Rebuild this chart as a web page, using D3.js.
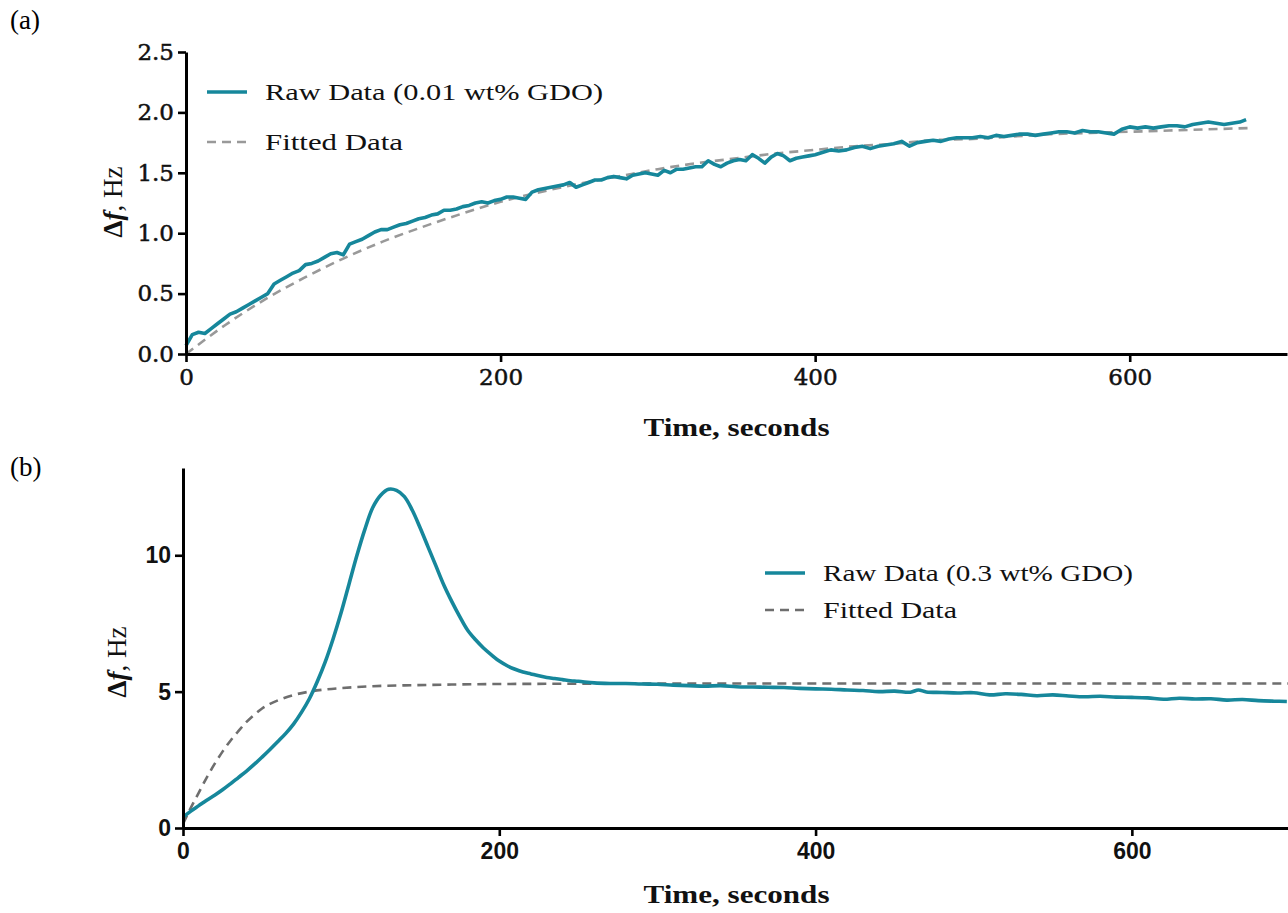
<!DOCTYPE html>
<html>
<head>
<meta charset="utf-8">
<script src="https://cdn.jsdelivr.net/npm/d3@7"></script>
<style>
  body { margin: 0; background: #fff; }
  svg { display: block; }
</style>
</head>
<body>
<svg id="chart" width="1288" height="913"></svg>
<script>
// panel (a): 0.01 wt% GDO
const timeA = [0,4,8,12,16,20,24,28,32,36,40,44,48,52,56,60,64,68,72,76,80,84,88,92,96,100,
  104,108,112,116,120,124,128,132,136,140,144,148,152,156,160,164,168,172,176,180,184,188,192,196,
  200,204,208,212,216,220,224,228,232,236,240,244,248,252,256,260,264,268,272,276,280,284,288,292,296,
  300,304,308,312,316,320,324,328,332,336,340,344,348,352,356,360,364,368,372,376,380,384,388,392,396,
  400,405,410,415,420,425,430,435,440,445,450,455,460,465,470,475,480,485,490,495,500,505,510,515,520,
  525,530,535,540,545,550,555,560,565,570,575,580,585,590,595,600,605,610,615,620,625,630,635,640,645,
  650,655,660,665,670,674];
const rawA = [0.07,0.16,0.18,0.17,0.21,0.25,0.29,0.33,0.35,0.38,0.41,0.44,0.47,0.50,0.58,0.61,0.64,0.67,0.69,0.74,0.75,0.77,0.80,0.83,0.84,0.82,
  0.91,0.93,0.95,0.98,1.01,1.03,1.03,1.05,1.07,1.08,1.10,1.12,1.13,1.15,1.16,1.19,1.19,1.20,1.22,1.23,1.25,1.26,1.25,1.27,
  1.28,1.30,1.30,1.29,1.28,1.34,1.36,1.37,1.38,1.39,1.40,1.42,1.38,1.40,1.42,1.44,1.44,1.46,1.47,1.46,1.45,1.48,1.49,1.50,1.49,
  1.48,1.52,1.50,1.53,1.53,1.54,1.55,1.55,1.60,1.57,1.55,1.58,1.60,1.61,1.60,1.65,1.62,1.58,1.63,1.66,1.64,1.60,1.62,1.63,1.64,
  1.65,1.67,1.69,1.68,1.69,1.71,1.72,1.70,1.72,1.73,1.74,1.76,1.72,1.75,1.76,1.77,1.76,1.78,1.79,1.79,1.79,1.80,1.79,1.81,1.80,
  1.81,1.82,1.82,1.81,1.82,1.83,1.84,1.84,1.83,1.85,1.84,1.84,1.83,1.82,1.86,1.88,1.87,1.88,1.87,1.88,1.89,1.89,1.88,1.90,1.91,
  1.92,1.91,1.90,1.91,1.92,1.94];
const fitTimeA = [0,25,50,75,100,125,150,175,200,225,250,275,300,325,350,375,400,425,450,475,500,525,550,575,600,625,650,675];
const fitA = [0.0,0.24,0.45,0.63,0.79,0.93,1.05,1.16,1.26,1.34,1.41,1.47,1.53,1.58,1.62,1.66,1.69,1.72,1.74,1.77,1.78,1.80,1.82,1.83,1.84,1.85,1.86,1.87];

// panel (b): 0.3 wt% GDO
const timeB = [0,5,10,15,20,25,30,35,40,45,50,55,60,65,70,75,80,85,90,95,100,105,110,115,120,125,130,135,140,145,
  150,155,160,165,170,175,180,185,190,195,200,205,210,215,220,225,230,235,240,245,
  250,260,270,280,290,300,310,320,330,340,350,360,370,380,390,400,410,420,430,440,450,460,465,470,480,490,
  500,510,520,530,540,550,560,570,580,590,600,610,620,630,640,650,660,670,680,690,698];
const rawB = [0.40,0.62,0.82,1.02,1.20,1.40,1.62,1.85,2.08,2.33,2.60,2.88,3.17,3.47,3.82,4.25,4.75,5.38,6.10,6.95,7.90,8.95,10.0,10.95,11.75,12.2,12.42,12.38,12.15,11.65,
  11.0,10.3,9.6,8.9,8.3,7.75,7.25,6.9,6.6,6.35,6.12,5.95,5.82,5.72,5.65,5.58,5.52,5.48,5.44,5.40,
  5.38,5.32,5.30,5.30,5.28,5.27,5.24,5.22,5.20,5.22,5.18,5.17,5.16,5.15,5.12,5.10,5.09,5.06,5.04,5.00,5.02,4.98,5.06,4.99,4.97,4.95,
  4.96,4.88,4.92,4.90,4.85,4.88,4.84,4.81,4.83,4.80,4.79,4.77,4.72,4.76,4.73,4.74,4.69,4.71,4.67,4.65,4.64];
const fitTimeB = [0,5,10,15,20,25,30,35,40,45,50,55,60,70,80,90,100,120,140,170,200,250,300,700];
const fitB = [0.15,0.75,1.3,1.85,2.35,2.8,3.2,3.55,3.88,4.15,4.38,4.55,4.68,4.88,5.0,5.08,5.13,5.2,5.23,5.26,5.28,5.29,5.3,5.3];

const xTicks = [0, 200, 400, 600];
const yTicksA = [0, 0.5, 1.0, 1.5, 2.0, 2.5];
const yTicksB = [0, 5, 10];

const teal = "#16879b";
const svg = d3.select("#chart");

function zip(t, v) { return t.map((d, i) => ({ t: d, v: v[i] })); }

function drawPanel(cfg) {
    const g = svg.append("g");
    const x = d3.scaleLinear().domain([0, 700]).range([cfg.left, cfg.right]);
    const y = d3.scaleLinear().domain(cfg.yDomain).range([cfg.bottom, cfg.top]);

    const line = d3.line().x(d => x(d.t)).y(d => y(d.v)).curve(cfg.curve);

    g.append("path")
        .datum(zip(cfg.fitT, cfg.fitV))
        .attr("fill", "none")
        .attr("stroke", cfg.dashColor)
        .attr("stroke-width", 2.6)
        .attr("stroke-dasharray", "9,6")
        .attr("d", d3.line().x(d => x(d.t)).y(d => y(d.v)).curve(d3.curveMonotoneX));

    g.append("path")
        .datum(zip(cfg.rawT, cfg.rawV))
        .attr("fill", "none")
        .attr("stroke", teal)
        .attr("stroke-width", 3.6)
        .attr("stroke-linejoin", "round")
        .attr("d", line);

    const xAxis = g.append("g")
        .attr("transform", `translate(0,${cfg.bottom})`)
        .call(d3.axisBottom(x).tickValues(xTicks).tickSize(8).tickSizeOuter(0).tickFormat(d3.format("d")));
    const yAxis = g.append("g")
        .attr("transform", `translate(${cfg.left},0)`)
        .call(d3.axisLeft(y).tickValues(cfg.yTicks).tickSize(8).tickSizeOuter(0).tickFormat(cfg.yFormat));

    [xAxis, yAxis].forEach(a => {
        a.select(".domain").attr("stroke", "#000").attr("stroke-width", 3);
        a.selectAll(".tick line").attr("stroke", "#000").attr("stroke-width", 2.6);
        a.selectAll(".tick text")
            .attr("fill", "#111")
            .attr("stroke", "#111")
            .attr("stroke-width", cfg.tickStroke)
            .style("font-family", cfg.tickFont)
            .style("font-weight", cfg.tickWeight)
            .style("font-size", cfg.tickSize + "px");
    });
    xAxis.selectAll(".tick text").attr("dy", "0.71em").attr("y", 15);
    yAxis.selectAll(".tick text").attr("x", -12);

    // axis titles
    g.append("text")
        .attr("x", (cfg.left + cfg.right) / 2)
        .attr("y", cfg.xTitleY)
        .attr("text-anchor", "middle")
        .attr("fill", "#111")
        .style("font-family", "'Liberation Serif', serif")
        .style("font-weight", "bold")
        .style("font-size", "25px")
        .attr("textLength", 186)
        .attr("lengthAdjust", "spacingAndGlyphs")
        .text("Time, seconds");

    const yl = g.append("text")
        .attr("transform", `translate(${cfg.yLabelX},${cfg.yLabelY}) rotate(-90)`)
        .attr("text-anchor", "middle")
        .attr("fill", "#111")
        .style("font-family", "'Liberation Serif', serif")
        .style("font-size", "27px");
    yl.append("tspan").style("font-weight", "bold").text("Δ");
    yl.append("tspan").style("font-style", "italic").style("font-weight", "bold").text("f");
    yl.append("tspan").text(", Hz");

    // legend
    const lg = g.append("g");
    const items = [
        { label: cfg.rawLabel, color: teal, dash: null, w: 3.6, len: cfg.rawLen },
        { label: "Fitted Data", color: cfg.dashColor, dash: "9,6", w: 2.6, len: cfg.fitLen }
    ];
    items.forEach((it, i) => {
        const yy = cfg.legY + i * cfg.legGap;
        lg.append("line")
            .attr("x1", cfg.legX).attr("x2", cfg.legX + 40)
            .attr("y1", yy).attr("y2", yy)
            .attr("stroke", it.color)
            .attr("stroke-width", it.w)
            .attr("stroke-dasharray", it.dash);
        lg.append("text")
            .attr("x", cfg.legX + 58)
            .attr("y", yy + 8)
            .style("font-family", "'Liberation Serif', serif")
            .style("font-size", "24px")
            .attr("fill", "#111")
            .attr("textLength", it.len)
            .attr("lengthAdjust", "spacingAndGlyphs")
            .text(it.label);
    });

    svg.append("text")
        .attr("x", 10).attr("y", cfg.tagY)
        .style("font-family", "'Liberation Serif', serif")
        .style("font-size", "27px")
        .text(cfg.tag);
}

drawPanel({
    tag: "(a)", tagY: 29,
    left: 186, right: 1287, top: 52, bottom: 354,
    yDomain: [0, 2.5], yTicks: yTicksA, yFormat: d3.format(".1f"),
    rawT: timeA, rawV: rawA, fitT: fitTimeA, fitV: fitA,
    curve: d3.curveLinear,
    dashColor: "#999",
    tickFont: "'DejaVu Serif', serif", tickWeight: "normal", tickSize: 23, tickStroke: 0.5,
    xTitleY: 436, yLabelX: 122, yLabelY: 202,
    legX: 207, legY: 92, legGap: 50,
    rawLabel: "Raw Data (0.01 wt% GDO)", rawLen: 338, fitLen: 138
});

drawPanel({
    tag: "(b)", tagY: 476,
    left: 183, right: 1290, top: 468, bottom: 828,
    yDomain: [0, 13.2], yTicks: yTicksB, yFormat: d3.format("d"),
    rawT: timeB, rawV: rawB, fitT: fitTimeB, fitV: fitB,
    curve: d3.curveCatmullRom,
    dashColor: "#6e6e6e",
    tickFont: "'Liberation Sans', Arial, sans-serif", tickWeight: "bold", tickSize: 23, tickStroke: 0,
    xTitleY: 903, yLabelX: 126, yLabelY: 662,
    legX: 765, legY: 573, legGap: 37,
    rawLabel: "Raw Data (0.3 wt% GDO)", rawLen: 310, fitLen: 134
});
</script>
</body>
</html>
